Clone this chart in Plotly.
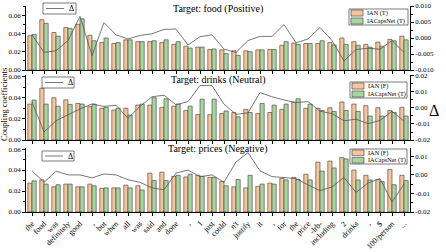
import plotly.graph_objects as go

# ---------------- data ----------------
words = ["the", "food", "was", "definitely", "good", ",", "but", "when", "all", "was",
         "said", "and", "done", ",", "I", "just", "could", "n't", "justify", "it",
         ",", "for", "the", "price", "-lrb-", "including", "2", "drinks", ",", "$",
         "100/person", "..."]

food_title = "Target: food (Positive)"
food_names = ["IAN (T)", "IACapsNet (T)"]
food_ian = [0.0375, 0.055, 0.041, 0.0465, 0.050, 0.038, 0.030, 0.029, 0.033, 0.031,
            0.031, 0.030, 0.028, 0.026, 0.025, 0.0225, 0.022, 0.021, 0.021, 0.022,
            0.0225, 0.027, 0.0295, 0.029, 0.029, 0.030, 0.035, 0.031, 0.028, 0.0305,
            0.0335, 0.037]
food_caps = [0.039, 0.051, 0.037, 0.0455, 0.056, 0.032, 0.035, 0.030, 0.033, 0.031,
             0.032, 0.033, 0.031, 0.024, 0.025, 0.023, 0.018, 0.016, 0.020, 0.022,
             0.0225, 0.031, 0.028, 0.029, 0.032, 0.0275, 0.028, 0.027, 0.025, 0.026,
             0.032, 0.033]
food_delta = [0.001, -0.0045, -0.004, -0.0008, 0.0068, -0.0055, 0.0048, 0.001, -0.0003, 0.0008,
              0.0013, 0.0027, 0.0028, -0.0022, 0.0004, 0.0010, -0.0035, -0.0045, -0.0008, 0.0005,
              0.0005, 0.0042, -0.0015, -0.0003, 0.0033, -0.0008, -0.0072, -0.0036, -0.0032, -0.0035,
              -0.0008, -0.0045]

drinks_title = "Target: drinks (Neutral)"
drinks_names = ["IAN (F)", "IACapsNet (T)"]
drinks_ian = [0.034, 0.049, 0.040, 0.038, 0.0346, 0.0315, 0.030, 0.0283, 0.030, 0.033,
              0.033, 0.031, 0.032, 0.028, 0.024, 0.024, 0.025, 0.026, 0.029, 0.025,
              0.026, 0.029, 0.0356, 0.030, 0.030, 0.0305, 0.036, 0.034, 0.0325, 0.0305,
              0.028, 0.031]
drinks_caps = [0.0378, 0.034, 0.032, 0.0337, 0.034, 0.034, 0.031, 0.030, 0.0236, 0.034,
               0.040, 0.039, 0.034, 0.032, 0.0387, 0.0387, 0.0274, 0.022, 0.026, 0.0346,
               0.033, 0.034, 0.039, 0.034, 0.028, 0.027, 0.028, 0.027, 0.0227, 0.0227,
               0.026, 0.0227]
drinks_delta = [0.0038, -0.015, -0.008, -0.0043, -0.0006, 0.0025, 0.001, 0.0017, -0.0064, 0.001,
                0.007, 0.008, 0.002, 0.004, 0.014, 0.014, 0.0024, -0.004, -0.003, 0.0096,
                0.007, 0.005, 0.0034, 0.004, -0.002, -0.0035, -0.008, -0.007, -0.0098, -0.0078,
                -0.002, -0.0083]

prices_title = "Target: prices (Negative)"
prices_names = ["IAN (F)", "IACapsNet (T)"]
prices_ian = [0.0275, 0.0306, 0.024, 0.0266, 0.024, 0.0266, 0.0225, 0.023, 0.0256, 0.025,
              0.037, 0.038, 0.034, 0.0334, 0.035, 0.033, 0.029, 0.024, 0.023, 0.0244,
              0.0275, 0.032, 0.033, 0.036, 0.0475, 0.0485, 0.052, 0.040, 0.035, 0.031,
              0.0406, 0.035]
prices_caps = [0.0297, 0.0266, 0.026, 0.0266, 0.024, 0.025, 0.023, 0.023, 0.023, 0.021,
               0.030, 0.030, 0.035, 0.036, 0.034, 0.033, 0.025, 0.031, 0.035, 0.0266,
               0.0266, 0.0306, 0.031, 0.0306, 0.039, 0.042, 0.0506, 0.0306, 0.0306, 0.029,
               0.026, 0.030]
prices_delta = [0.0022, -0.004, 0.002, 0.0, 0.0, -0.0016, 0.0005, 0.0, -0.0026, -0.004,
                -0.007, -0.008, 0.001, 0.0026, -0.001, 0.0, -0.004, 0.007, 0.012, 0.0022,
                -0.0009, -0.0014, -0.002, -0.0054, -0.0085, -0.0065, -0.0014, -0.0094, -0.0044, -0.002,
                -0.0146, -0.005]

delta_name = "Δ"
left_ticks = [0.0, 0.02, 0.04, 0.06]
right_ticks_food = [-0.010, -0.005, 0.0, 0.005, 0.010]
right_text_food = ["-0.010", "-0.005", "0.000", "0.005", "0.010"]
right_ticks_drinks = [-0.02, -0.01, 0.0, 0.01, 0.02]
right_text_drinks = ["-0.02", "-0.01", "0.00", "0.01", "0.02"]
right_ticks_prices = [-0.02, -0.01, 0.0, 0.01]
right_text_prices = ["-0.02", "-0.01", "0.00", "0.01"]
y_title = "Coupling coefficients"

# ---------------- layout helpers ----------------
W, H = 446, 252
ML, MR, MT, MB = 26, 36, 6, 40
PW = W - ML - MR
PH = H - MT - MB


def px(x):
    return (x - ML) / PW


def py(y):
    return (H - MB - y) / PH


FONT = "Liberation Serif"
ORANGE = "#F7C49B"
GREEN = "#A7D6A0"
EDGE = "#3a3a3a"
LINEC = "#555555"

xs = list(range(len(words)))

panels = [
    dict(title=food_title, names=food_names, ian=food_ian, caps=food_caps, delta=food_delta,
         top=6, bot=70, lrange=[0, 0.07], rrange=[-0.01, 0.01],
         rt=right_ticks_food, rtt=right_text_food, rminor=0.0025,
         title_y=9, dleg=(43, 3, 76, 14), bleg=(349, 9, 408, 25)),
    dict(title=drinks_title, names=drinks_names, ian=drinks_ian, caps=drinks_caps, delta=drinks_delta,
         top=75, bot=140, lrange=[0, 0.0615], rrange=[-0.02, 0.0206],
         rt=right_ticks_drinks, rtt=right_text_drinks, rminor=0.005,
         title_y=80, dleg=(42, 77, 74, 88), bleg=(350, 82, 407, 98)),
    dict(title=prices_title, names=prices_names, ian=prices_ian, caps=prices_caps, delta=prices_delta,
         top=148, bot=212, lrange=[0, 0.061], rrange=[-0.02, 0.0145],
         rt=right_ticks_prices, rtt=right_text_prices, rminor=0.005,
         title_y=149, dleg=(42, 151, 74, 161), bleg=(350, 149, 407, 164)),
]

fig = go.Figure()
layout = dict(
    width=W, height=H,
    margin=dict(l=ML, r=MR, t=MT, b=MB, pad=0),
    paper_bgcolor="white", plot_bgcolor="white",
    barmode="group", bargap=0.3, bargroupgap=0.0,
    showlegend=False,
    font=dict(family=FONT, size=7, color="black"),
    template="none",
)
shapes = []
annotations = []

axis_common = dict(showline=True, linecolor="black", linewidth=0.8, ticks="outside",
                   ticklen=3, tickwidth=0.7, tickcolor="black", showgrid=False,
                   zeroline=False, automargin=False,
                   tickfont=dict(family=FONT, size=7, color="black"))

for i, p in enumerate(panels):
    xa = "x" if i == 0 else f"x{i + 1}"
    yl = "y" if i == 0 else f"y{2 * i + 1}"
    yr = f"y{2 * i + 2}"
    xkey = "xaxis" if i == 0 else f"xaxis{i + 1}"
    ylkey = "yaxis" if i == 0 else f"yaxis{2 * i + 1}"
    yrkey = f"yaxis{2 * i + 2}"

    fig.add_trace(go.Bar(x=xs, y=p["ian"], name=p["names"][0], xaxis=xa, yaxis=yl,
                         marker=dict(color=ORANGE, line=dict(color=EDGE, width=0.6)),
                         offsetgroup="a"))
    fig.add_trace(go.Bar(x=xs, y=p["caps"], name=p["names"][1], xaxis=xa, yaxis=yl,
                         marker=dict(color=GREEN, line=dict(color=EDGE, width=0.6)),
                         offsetgroup="b"))
    fig.add_trace(go.Scatter(x=xs, y=p["delta"], name=delta_name, xaxis=xa, yaxis=yr,
                             mode="lines", line=dict(color=LINEC, width=0.8)))

    dom = [py(p["bot"]), py(p["top"])]
    layout[xkey] = dict(axis_common, domain=[0, 1], anchor=yl, range=[-0.5, len(words) - 0.5],
                        tickmode="array", tickvals=xs, ticktext=words,
                        showticklabels=(i == 2), tickangle=-45,
                        tickfont=dict(family=FONT, size=8, color="black"))
    layout[ylkey] = dict(axis_common, domain=dom, anchor=xa, range=p["lrange"],
                         tickmode="array", tickvals=left_ticks, tickformat=".2f",
                         minor=dict(ticks="outside", ticklen=2, tickwidth=0.6, tickcolor="black",
                                    dtick=0.01, tick0=0))
    layout[yrkey] = dict(axis_common, overlaying=yl, side="right", anchor=xa, range=p["rrange"],
                         tickmode="array", tickvals=p["rt"], ticktext=p["rtt"],
                         minor=dict(ticks="outside", ticklen=2, tickwidth=0.6, tickcolor="black",
                                    dtick=p["rminor"], tick0=0))

    # panel title
    annotations.append(dict(text=p["title"], x=px(218), y=py(p["title_y"]), xref="paper", yref="paper",
                            showarrow=False, xanchor="center", yanchor="middle",
                            font=dict(family=FONT, size=10, color="black")))

    # delta legend (custom)
    x0, y0, x1, y1 = p["dleg"]
    shapes.append(dict(type="rect", xref="paper", yref="paper", x0=px(x0), x1=px(x1),
                       y0=py(y1), y1=py(y0), line=dict(color="#444", width=0.7), fillcolor="white"))
    ym = (y0 + y1) / 2
    shapes.append(dict(type="line", xref="paper", yref="paper", x0=px(x0 + 3), x1=px(x0 + 21),
                       y0=py(ym), y1=py(ym), line=dict(color=LINEC, width=0.8)))
    annotations.append(dict(text=delta_name, x=px(x0 + 24), y=py(ym), xref="paper", yref="paper",
                            showarrow=False, xanchor="left", yanchor="middle",
                            font=dict(family=FONT, size=8, color="black")))

    # bar legend (custom)
    x0, y0, x1, y1 = p["bleg"]
    shapes.append(dict(type="rect", xref="paper", yref="paper", x0=px(x0), x1=px(x1),
                       y0=py(y1), y1=py(y0), line=dict(color="#444", width=0.7), fillcolor="white"))
    hh = (y1 - y0) / 2
    for k, (nm, col) in enumerate(zip(p["names"], [ORANGE, GREEN])):
        cy = y0 + hh * (k + 0.5)
        shapes.append(dict(type="rect", xref="paper", yref="paper", x0=px(x0 + 2), x1=px(x0 + 14),
                           y0=py(cy + hh * 0.38), y1=py(cy - hh * 0.38),
                           line=dict(color=EDGE, width=0.6), fillcolor=col))
        annotations.append(dict(text=nm, x=px(x0 + 15.5), y=py(cy), xref="paper", yref="paper",
                                showarrow=False, xanchor="left", yanchor="middle",
                                font=dict(family=FONT, size=6.3, color="black")))

annotations.append(dict(text=y_title, x=px(4), y=py(105), xref="paper", yref="paper",
                        showarrow=False, textangle=-90, xanchor="center", yanchor="middle",
                        font=dict(family=FONT, size=8.5, color="black")))
annotations.append(dict(text=delta_name, x=px(434), y=py(110), xref="paper", yref="paper",
                        showarrow=False, xanchor="center", yanchor="middle",
                        font=dict(family=FONT, size=16, color="black")))

layout["shapes"] = shapes
layout["annotations"] = annotations
fig.update_layout(**layout)
fig.write_html("out.html")
